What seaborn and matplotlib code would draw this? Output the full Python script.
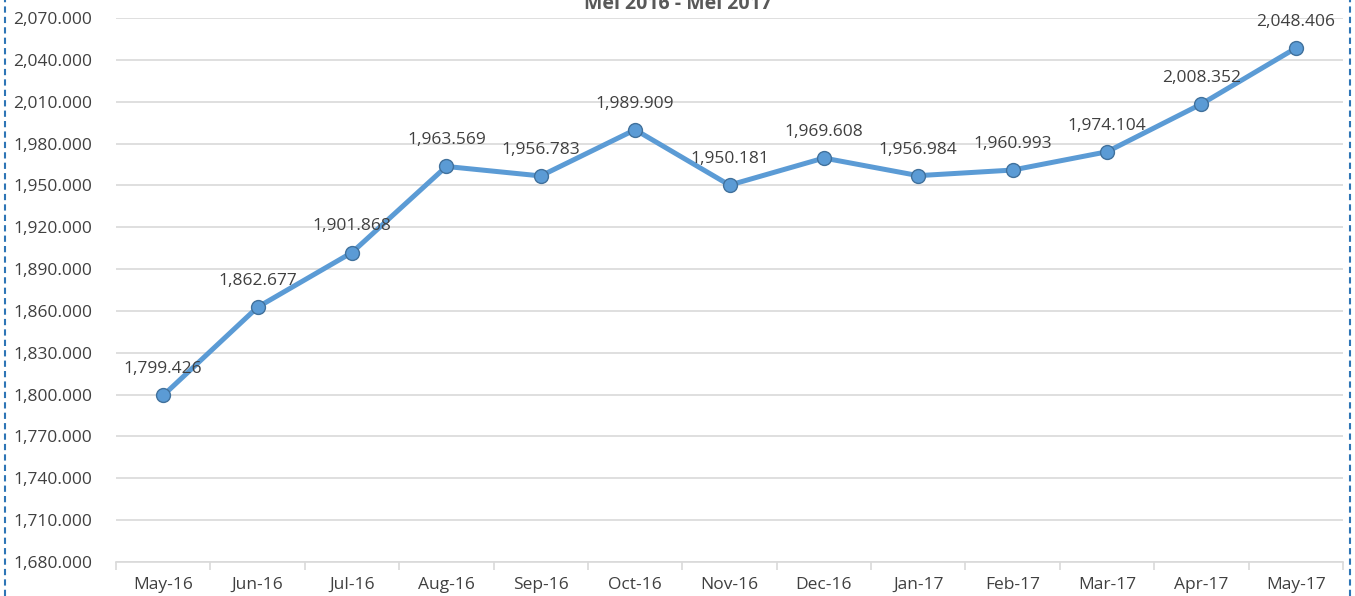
import seaborn as sns
import matplotlib.pyplot as plt
import pandas as pd
from matplotlib.lines import Line2D
from matplotlib.ticker import FuncFormatter, FixedLocator

# data
months = ["May-16", "Jun-16", "Jul-16", "Aug-16", "Sep-16", "Oct-16", "Nov-16",
          "Dec-16", "Jan-17", "Feb-17", "Mar-17", "Apr-17", "May-17"]
values = [1799.426, 1862.677, 1901.868, 1963.569, 1956.783, 1989.909, 1950.181,
          1969.608, 1956.984, 1960.993, 1974.104, 2008.352, 2048.406]
y_ticks = [1680, 1710, 1740, 1770, 1800, 1830, 1860, 1890, 1920, 1950, 1980,
           2010, 2040, 2070]
title = "Mei 2016 - Mei 2017"

df = pd.DataFrame({"month": months, "value": values, "pos": range(len(months))})

sns.set_style("white")
plt.rcParams["font.family"] = ["Open Sans", "DejaVu Sans"]

fig = plt.figure(figsize=(13.55, 5.96), dpi=100)
ax = fig.add_axes([116 / 1355, 34 / 596, (1343 - 116) / 1355, (562 - 18) / 596])

line_color = "#5B9BD5"
sns.lineplot(data=df, x="pos", y="value", ax=ax, color=line_color, linewidth=3.6,
             marker="o", markersize=10, markerfacecolor=line_color,
             markeredgecolor="#41719C", markeredgewidth=1.0, zorder=3)

for x, v in zip(df["pos"], df["value"]):
    ax.annotate(f"{v:,.3f}", (x, v), xytext=(0, 13), textcoords="offset points",
                ha="center", va="bottom", fontsize=12.5, color="#404040")

ax.set_xlim(-0.5, len(months) - 0.5)
ax.set_ylim(y_ticks[0], y_ticks[-1])
ax.set_yticks(y_ticks)
ax.yaxis.set_major_formatter(FuncFormatter(lambda v, p: f"{v:,.3f}"))
ax.set_xticks(list(df["pos"]))
ax.set_xticklabels(months)
ax.xaxis.set_minor_locator(FixedLocator([i - 0.5 for i in range(len(months) + 1)]))
ax.tick_params(axis="x", which="major", length=0, pad=11, labelsize=12.5, labelcolor="#404040")
ax.tick_params(axis="x", which="minor", bottom=True, length=6, color="#D9D9D9", width=1.2)
ax.tick_params(axis="y", length=0, pad=17, labelsize=12.5, labelcolor="#404040")
ax.grid(axis="y", color="#D9D9D9", linewidth=1.2)
ax.set_axisbelow(True)
for s in ["left", "right", "top"]:
    ax.spines[s].set_visible(False)
ax.spines["bottom"].set_color("#D9D9D9")
ax.spines["bottom"].set_linewidth(1.2)
ax.set_xlabel("")
ax.set_ylabel("")

fig.text(0.5, 1 - 4 / 596, title, ha="center", va="center", fontsize=14,
         fontweight="bold", color="#595959")

# dashed frame on the left and right edges
for xf in [5 / 1355, 1350 / 1355]:
    fig.add_artist(Line2D([xf, xf], [0, 1], transform=fig.transFigure,
                          color="#2E75B6", linewidth=1.5, linestyle=(0, (3, 2))))

fig.savefig("out.png", dpi=100)
